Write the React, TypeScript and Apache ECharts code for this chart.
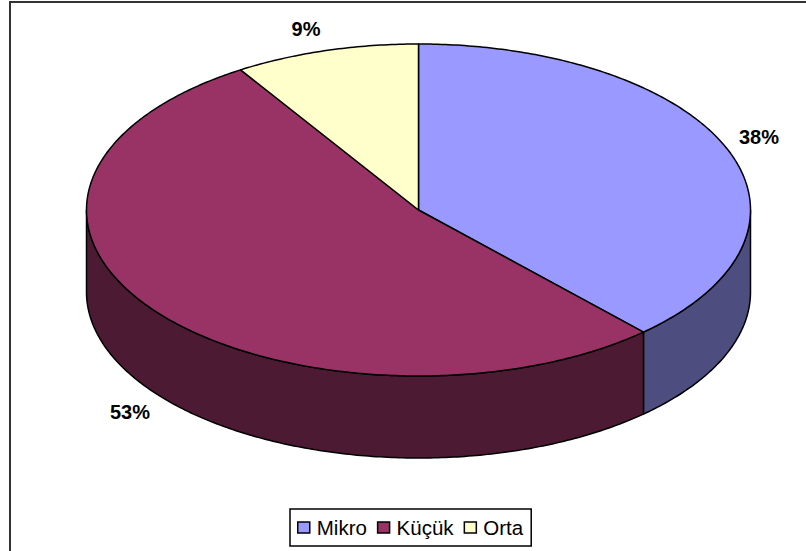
import React, { useEffect, useRef } from "react";
import * as echarts from "echarts";

const categories = ["Mikro", "Küçük", "Orta"];
const shares = [38.15, 52.85, 9.0];
const topColors = ["#9999FF", "#993366", "#FFFFCC"];
const sideColors = ["#4D4D80", "#4D1A33", "#808066"];
const labelAnchors = [[759, 137], [130, 412], [306, 29]];

const CX = 418.5, CY = 210, RX = 332, RY = 166, DEPTH = 82;
const pt = (deg: number, dy = 0) => {
  const a = (deg * Math.PI) / 180;
  return [CX + RX * Math.sin(a), CY - RY * Math.cos(a) + dy];
};
const arcPts = (a: number, b: number, dy = 0) => {
  const n = Math.max(2, Math.ceil(Math.abs(b - a) * 1.5));
  const out: number[][] = [];
  for (let i = 0; i <= n; i++) out.push(pt(a + ((b - a) * i) / n, dy));
  return out;
};

export default function App() {
  const ref = useRef<HTMLDivElement>(null);
  useEffect(() => {
    const chart = echarts.init(ref.current!, null, { renderer: "svg" });
    const stroke = { stroke: "#000", lineWidth: 1.5, lineJoin: "round" };
    const total = shares.reduce((s, v) => s + v, 0);
    const startOf = (i: number) =>
      (shares.slice(0, i).reduce((s, v) => s + v, 0) / total) * 360;
    const series: any[] = categories.map((name, i) => ({
      type: "custom",
      name,
      coordinateSystem: "none",
      itemStyle: { color: topColors[i], borderColor: "#000", borderWidth: 1 },
      data: [[shares[i]]],
      renderItem: (_: any, api: any) => {
        const start = startOf(i);
        const end = start + (api.value(0) / total) * 360;
        const children: any[] = [];
        const ws = Math.max(start, 90), we = Math.min(end, 270);
        if (ws < we) {
          const top = arcPts(ws, we);
          const bottom = arcPts(we, ws, DEPTH);
          children.push({
            type: "polygon",
            z2: 1,
            shape: { points: [...top, ...bottom] },
            style: { fill: sideColors[i], ...stroke },
          });
        }
        children.push({
          type: "polygon",
          z2: 2,
          shape: { points: [[CX, CY], ...arcPts(start, end)] },
          style: { fill: topColors[i], ...stroke },
        });
        return { type: "group", children };
      },
    }));
    chart.setOption({
      animation: false,
      backgroundColor: "#fff",
      legend: {
        data: categories.map((name) => ({ name, icon: "rect" })),
        left: 290,
        top: 509,
        padding: [7, 8, 7, 7],
        itemWidth: 12,
        itemHeight: 11,
        itemGap: 10,
        borderColor: "#000",
        borderWidth: 1.5,
        backgroundColor: "#fff",
        itemStyle: { borderColor: "#000", borderWidth: 1.5 },
        textStyle: { fontFamily: "Liberation Sans", fontSize: 20.5, color: "#000", padding: [0, 0, 0, 2], lineHeight: 23 },
        selectedMode: false,
      },
      series,
      graphic: [
        { type: "rect", z: -1, shape: { x: 10, y: 2, width: 800, height: 560 }, style: { fill: "#fff", stroke: "#333", lineWidth: 2 } },
        ...shares.map((v, i) => ({
          type: "text",
          x: labelAnchors[i][0],
          y: labelAnchors[i][1],
          style: { text: `${Math.round(v)}%`, fontFamily: "Liberation Sans", fontWeight: "bold", fontSize: 20, fill: "#000", textAlign: "center", textVerticalAlign: "middle" },
        })),
      ],
    });
    return () => chart.dispose();
  }, []);
  return <div ref={ref} style={{ position: "fixed", left: 0, top: 0, width: 806, height: 551 }} />;
}
